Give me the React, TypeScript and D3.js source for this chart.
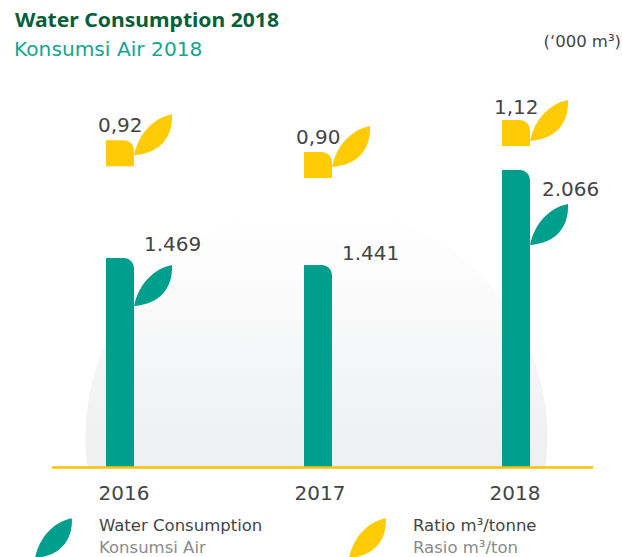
import React from "react";
import * as d3 from "d3";

const years = ["2016", "2017", "2018"];
const waterLabels = ["1.469", "1.441", "2.066"];
const ratioLabels = ["0,92", "0,90", "1,12"];
const waterLevels = [1453, 1405, 2066];
const ratioLevels = [0.98, 0.9, 1.12];

const TEAL = "#009e8c";
const YELLOW = "#ffcb05";
const FONT = "'DejaVu Sans', sans-serif";

const W = 622, H = 557;
const x = d3.scaleBand<string>().domain(years).range([21, 615]).paddingInner(0).paddingOuter(0);
const y = d3.scaleLinear().domain([0, 2066]).range([467, 170]);
const yRatio = d3.scaleLinear().domain([0.9, 1.12]).range([178, 146]);
const BAR_W = 28;
const yearNudge = [4, 2, -1];

function leaf(px: number, py: number, s = 1) {
  const p = d3.path();
  p.moveTo(px, py);
  p.bezierCurveTo(px + 4 * s, py - 20 * s, px + 18 * s, py - 37 * s, px + 38 * s, py - 41 * s);
  p.bezierCurveTo(px + 39 * s, py - 18 * s, px + 26 * s, py - 2 * s, px, py);
  p.closePath();
  return p.toString();
}

function topRounded(x0: number, yTop: number, w: number, yBottom: number, r: number) {
  const p = d3.path();
  p.moveTo(x0, yBottom);
  p.lineTo(x0, yTop);
  p.lineTo(x0 + w - r, yTop);
  p.arcTo(x0 + w, yTop, x0 + w, yTop + r, r);
  p.lineTo(x0 + w, yBottom);
  p.closePath();
  return p.toString();
}

export default function App() {
  const barX = (yr: string) => x(yr)! + (x.bandwidth() - BAR_W) / 2;
  const domeR = 231, domeCx = 316.5, domeCy = 437;
  const dome = d3.path();
  const dy = 467 - domeCy;
  const dx = Math.sqrt(domeR * domeR - dy * dy);
  dome.moveTo(domeCx - dx, 467);
  dome.arc(domeCx, domeCy, domeR, Math.PI - Math.asin(dy / domeR), Math.asin(dy / domeR), false);
  dome.closePath();
  return (
    <svg width={W} height={H} style={{ position: "absolute", left: 0, top: 0 }} fontFamily={FONT}>
      <defs>
        <linearGradient id="dome" x1="0" y1="0" x2="0" y2="1">
          <stop offset="0" stopColor="#ffffff" />
          <stop offset="0.25" stopColor="#fcfcfc" />
          <stop offset="0.8" stopColor="#f1f2f4" />
          <stop offset="1" stopColor="#eeeff1" />
        </linearGradient>
      </defs>
      <rect width={W} height={H} fill="#fff" />
      <text x={15} y={27} fontSize={20} fontWeight={700} fontFamily="'Noto Sans', sans-serif" textLength={264} lengthAdjust="spacingAndGlyphs" fill="#05603a">Water Consumption 2018</text>
      <text x={14} y={56} fontSize={20.2} fill="#14a593">Konsumsi Air 2018</text>
      <text x={621} y={47} fontSize={16.5} textAnchor="end" fill="#444">(‘000 m³)</text>

      <path d={dome.toString()} fill="url(#dome)" />

      {years.map((yr, i) => {
        const bx = barX(yr);
        const by = y(waterLevels[i]);
        const ry = yRatio(ratioLevels[i]);
        return (
          <g key={yr}>
            <path d={topRounded(bx, by, BAR_W, 467, 10)} fill={TEAL} />
            {i !== 1 && <path d={leaf(bx + BAR_W, by + (i === 0 ? 48 : 75))} fill={TEAL} />}
            <text x={bx + BAR_W + (i === 2 ? 12 : 10)} y={by + (i === 0 ? -7 : i === 1 ? -5 : 26)} fontSize={20} fill="#444">{waterLabels[i]}</text>
            <path d={topRounded(bx, ry - 26, BAR_W, ry, 10)} fill={YELLOW} />
            <path d={leaf(bx + BAR_W, ry - (i === 2 ? 5 : 11))} fill={YELLOW} />
            <text x={bx - 8} y={ry - 34 + (i === 2 ? 2 : 0)} fontSize={20} fill="#444">{ratioLabels[i]}</text>
            <text x={bx + BAR_W / 2 + yearNudge[i]} y={500} fontSize={20} textAnchor="middle" fill="#444">{yr}</text>
          </g>
        );
      })}
      <line x1={52} x2={593} y1={467.5} y2={467.5} stroke="#fcc200" strokeWidth={2.4} />

      <path d={leaf(35, 558, 0.97)} fill={TEAL} />
      <text x={99} y={531} fontSize={16.5} fill="#444">Water Consumption</text>
      <text x={99} y={553} fontSize={16.5} fill="#8a8a8a">Konsumsi Air</text>
      <path d={leaf(349, 558, 0.97)} fill={YELLOW} />
      <text x={413} y={531} fontSize={16.5} fill="#444">Ratio m³/tonne</text>
      <text x={413} y={553} fontSize={16.5} fill="#8a8a8a">Rasio m³/ton</text>
    </svg>
  );
}
